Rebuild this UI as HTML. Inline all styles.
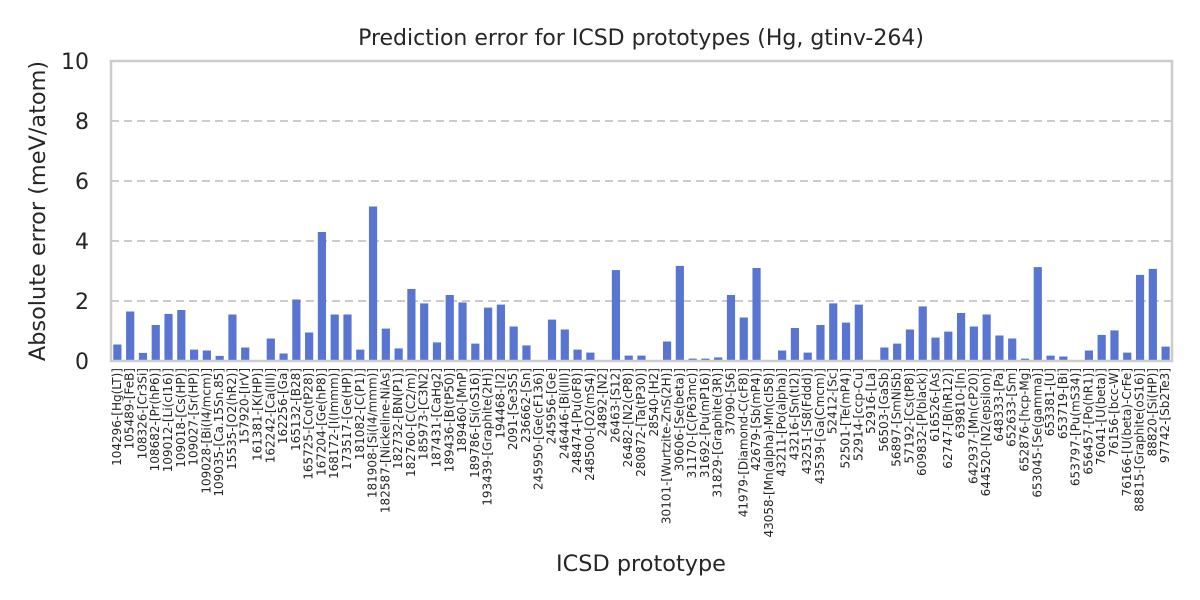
<!DOCTYPE html>
<html><head><meta charset="utf-8"><style>
body{margin:0;background:#fff;}
svg{display:block;font-family:"DejaVu Sans","Liberation Sans",sans-serif;}
</style></head><body>
<svg id="chart" width="1200" height="600" viewBox="0 0 1200 600" xmlns="http://www.w3.org/2000/svg">
<rect width="1200" height="600" fill="#fff"/>
<text x="641" y="45" font-size="22" fill="#262626" text-anchor="middle">Prediction error for ICSD prototypes (Hg, gtinv-264)</text>
<text transform="translate(45,211) rotate(-90)" font-size="22.4" fill="#262626" text-anchor="middle">Absolute error (meV/atom)</text>
<text x="641" y="571" font-size="22.4" fill="#262626" text-anchor="middle">ICSD prototype</text>
<g id="grid"></g><g id="bars"></g><g id="yticks"></g><g id="xticks"></g>
<rect x="111" y="61" width="1061" height="300" fill="none" stroke="#cccccc" stroke-width="2.5"/>
</svg>
<script>
const categories=["104296-[Hg(LT)]","105489-[FeB]","108326-[Cr3Si]","108682-[Pr(hP6)]","109012-[Li(cI16)]","109018-[Cs(HP)]","109027-[Sr(HP)]","109028-[Bi(I4/mcm)]","109035-[Ca.15Sn.85]","15535-[O2(hR2)]","157920-[IrV]","161381-[K(HP)]","162242-[Ca(III)]","162256-[Ga]","165132-[B28]","165725-[Co(tP28)]","167204-[Ge(hP8)]","168172-[I(Immm)]","173517-[Ge(HP)]","181082-[C(P1)]","181908-[Si(I4/mmm)]","182587-[Nickeline-NiAs]","182732-[BN(P1)]","182760-[C(C2/m)]","185973-[C3N2]","187431-[CaHg2]","189436-[B(tP50)]","189460-[MnP]","189786-[Si(oS16)]","193439-[Graphite(2H)]","194468-[I2]","2091-[Se3S5]","236662-[Sn]","245950-[Ge(cF136)]","245956-[Ge]","246446-[Bi(III)]","248474-[Pu(oF8)]","248500-[O2(mS4)]","24892-[N2]","26463-[S12]","26482-[N2(cP8)]","280872-[Ta(tP30)]","28540-[H2]","30101-[Wurtzite-ZnS(2H)]","30606-[Se(beta)]","31170-[C(P63mc)]","31692-[Pu(mP16)]","31829-[Graphite(3R)]","37090-[S6]","41979-[Diamond-C(cF8)]","42679-[Sb(mP4)]","43058-[Mn(alpha)-Mn(cI58)]","43211-[Po(alpha)]","43216-[Sn(tI2)]","43251-[S8(Fddd)]","43539-[Ga(Cmcm)]","52412-[Sc]","52501-[Te(mP4)]","52914-[ccp-Cu]","52916-[La]","56503-[GaSb]","56897-[SmNiSb]","57192-[Cs(tP8)]","609832-[P(black)]","616526-[As]","62747-[B(hR12)]","639810-[In]","642937-[Mn(cP20)]","644520-[N2(epsilon)]","648333-[Pa]","652633-[Sm]","652876-[hcp-Mg]","653045-[Se(gamma)]","653381-[U]","653719-[Bi]","653797-[Pu(mS34)]","656457-[Po(hR1)]","76041-[U(beta)]","76156-[bcc-W]","76166-[U(beta)-CrFe]","88815-[Graphite(oS16)]","88820-[Si(HP)]","97742-[Sb2Te3]"];
const errors=[0.55,1.65,0.27,1.2,1.57,1.7,0.38,0.35,0.17,1.55,0.45,0,0.75,0.25,2.05,0.95,4.3,1.55,1.55,0.38,5.15,1.08,0.42,2.4,1.92,0.62,2.2,1.95,0.58,1.78,1.88,1.15,0.52,0.03,1.38,1.05,0.38,0.28,0,3.03,0.18,0.18,0,0.65,3.17,0.08,0.08,0.12,2.2,1.45,3.1,0,0.35,1.1,0.28,1.2,1.92,1.28,1.88,0,0.45,0.58,1.05,1.82,0.78,0.98,1.6,1.15,1.55,0.85,0.75,0.08,3.13,0.18,0.15,0,0.35,0.87,1.02,0.28,2.87,3.07,0.48];
const yTicks=[0,2,4,6,8,10];
const NS="http://www.w3.org/2000/svg";
const X0=111,X1=1172,Y0=361,Y1=61,YMAX=10;
const step=(X1-X0)/categories.length;
const xC=i=>X0+step*(i+0.5);
const yS=v=>Y0-(v/YMAX)*(Y0-Y1);
function mk(t,a){const e=document.createElementNS(NS,t);for(const k in a)e.setAttribute(k,a[k]);return e;}
const grid=document.getElementById('grid'),bars=document.getElementById('bars'),yt=document.getElementById('yticks'),xt=document.getElementById('xticks');
yTicks.forEach(v=>{
  if(v>0&&v<YMAX){const l=mk('line',{x1:X0,x2:X1,y1:yS(v),y2:yS(v),stroke:'#cccccc','stroke-width':2,'stroke-dasharray':'8,5'});
  
  
  grid.appendChild(l);}
  const t=mk('text',{x:X0-22,y:yS(v)+8,'font-size':22,fill:'#262626','text-anchor':'end'});
  t.textContent=v;
  
  
  yt.appendChild(t);
});
const bw=step*0.64;
errors.forEach((v,i)=>{
  const r=mk('rect',{x:xC(i)-bw/2,y:yS(v),width:bw,height:Y0-yS(v),fill:'#5875d1'});
  
  
  bars.appendChild(r);
});
categories.forEach((c,i)=>{
  const t=mk('text',{transform:'translate('+(xC(i)+3.5)+',368) rotate(-90)','font-size':12,fill:'#262626','text-anchor':'end'});
  t.textContent=c;
  
  
  xt.appendChild(t);
});
</script>
</body></html>
